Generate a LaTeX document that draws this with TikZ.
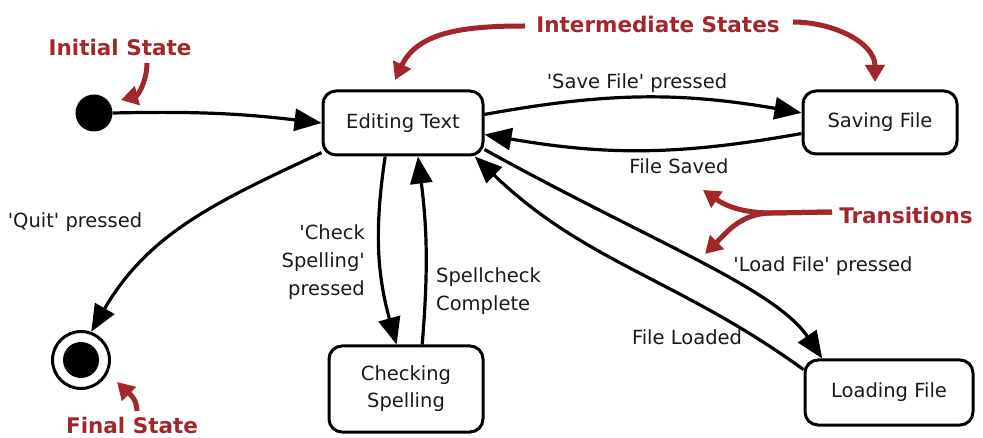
\documentclass[tikz,border=0pt]{standalone}
\usepackage{fontspec}
\setmainfont{DejaVu Sans}
\newfontfamily\redfont{DejaVu Sans}
\usetikzlibrary{arrows.meta}
\definecolor{lblred}{HTML}{A3262B}
\definecolor{ink}{HTML}{1A1A1A}
\newcommand\apos{\textquotesingle}
\begin{document}
\begin{tikzpicture}[x=1pt,y=1pt,
  state/.style={draw=black, line width=3pt, rounded corners=13pt, fill=white,
    font=\fontsize{19.5}{27}\selectfont, text=ink, align=center, inner sep=0pt},
  trans/.style={draw=black, line width=3.2pt, -{Triangle[length=27pt,width=22pt]}},
  lbl/.style={font=\fontsize{19.5}{28}\selectfont, text=ink, inner sep=0pt},
  note/.style={font=\redfont\bfseries\fontsize{21.5}{26}\selectfont, text=lblred, inner sep=0pt},
  pointer/.style={draw=lblred, line width=5pt, -{Triangle[length=17pt,width=19pt]}, lblred}
]
\useasboundingbox (0,0) rectangle (983,-438);
\fill[white] (0,0) rectangle (983,-438);

% states
\node[state, minimum width=160pt, minimum height=64pt] (edit) at (403,-123) {Editing Text};
\node[state, minimum width=154pt, minimum height=63pt] (save) at (880,-122.5) {Saving File};
\node[state, minimum width=154pt, minimum height=86pt] (check) at (406,-389) {Checking\\Spelling};
\node[state, minimum width=168pt, minimum height=65pt] (load) at (889,-392.5) {Loading File};
\node[circle, fill=black, minimum size=37pt, inner sep=0pt] (init) at (94,-113) {};
\node[circle, draw=black, line width=3pt, fill=white, minimum size=57pt, inner sep=0pt] (final) at (81,-360) {};
\fill[black] (final.center) circle[radius=18pt];

% transitions
\draw[trans] (init.east) to[bend left=4] (edit.west);
\draw[trans] (edit.6) to[bend left=10] (save.173);
\draw[trans] (save.188) to[bend left=10] (edit.-8);
\draw[trans] (edit.200) to[out=205,in=60] (final.70);
\draw[trans] (edit.242) to[bend right=12] (check.102);
\draw[trans] (check.70) to[bend right=6] (edit.-66);
\draw[trans] (edit.-18) to[out=-29,in=124,out looseness=1.2,in looseness=0.55] (load.153);
\draw[trans] (load.165) to[out=144,in=-44] (edit.-25);

% transition labels
\node[lbl] (lsave) at (637,-83) {\apos Save File\apos{} pressed};
\node[lbl] (lsaved) at (679,-166) {File Saved};
\node[lbl] (lquit) at (75,-222) {\apos Quit\apos{} pressed};
\node[lbl, align=right, anchor=east] (lcheck) at (365,-262) {\apos Check\\Spelling\apos\\pressed};
\node[lbl, align=left, anchor=west] (lcomplete) at (436,-291.5) {Spellcheck\\Complete};
\node[lbl] (lload) at (823,-266) {\apos Load File\apos{} pressed};
\node[lbl] (lloaded) at (687,-337) {File Loaded};

% annotations
\node[note] (ninit) at (120,-47) {Initial State};
\node[note] (ninter) at (658,-24) {Intermediate States};
\node[note] (ntrans) at (906,-215) {Transitions};
\node[note] (nfinal) at (132,-425) {Final State};

\coordinate (pa1) at (147,-63);  \coordinate (pb1) at (121,-100);
\coordinate (pa2) at (137,-411); \coordinate (pb2) at (117,-382);
\coordinate (pa3) at (525,-26);  \coordinate (pb3) at (395,-80);
\coordinate (pa4) at (793,-22);  \coordinate (pb4) at (875,-82);
\coordinate (pa5) at (832,-212); \coordinate (pf5) at (772,-213);
\coordinate (pb5) at (703,-190); \coordinate (pc5) at (705,-254);

\draw[pointer] (pa1) to[out=-90,in=15] (pb1);
\draw[pointer] (pa2) to[out=90,in=-45] (pb2);
\draw[pointer] (pa3) to[out=180,in=65] (pb3);
\draw[pointer] (pa4) to[out=0,in=90] (pb4);
\draw[pointer] (pa5) -- (pf5) to[out=180,in=-35] (pb5);
\draw[pointer] (pa5) -- (pf5) to[out=180,in=45] (pc5);
\end{tikzpicture}
\end{document}
